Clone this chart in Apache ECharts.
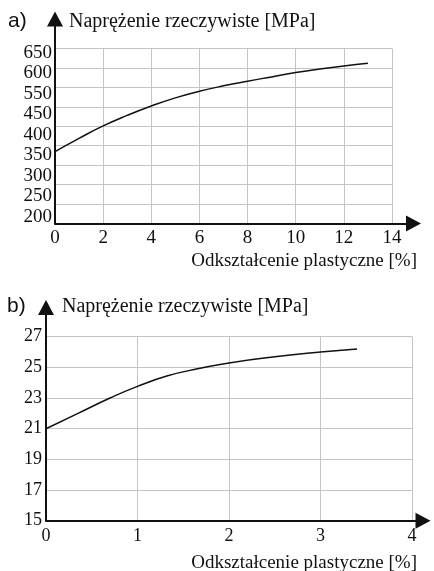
<!DOCTYPE html>
<html>
<head>
<meta charset="utf-8">
<style>
  html, body { margin: 0; padding: 0; background: #fff; }
  #chart { width: 434px; height: 571px; }
</style>
<script src="https://cdn.jsdelivr.net/npm/echarts@6/dist/echarts.min.js"></script>
</head>
<body>
<div id="chart"></div>
<script>
// chart a) - strain [%] vs true stress [MPa]
const strainA = [0, 1, 2, 3, 4, 5, 6, 7, 8, 9, 10, 11, 12, 13];
const stressA = [385, 419, 451, 478, 502, 523, 540, 554, 566, 577, 588, 597, 605, 612];
// the printed labels skip 500, so they are spread over the axis on their own
const yLabelsA = ['200', '250', '300', '350', '400', '450', '550', '600', '650'];

// chart b)
const strainB = [0, 0.35, 0.7, 1, 1.33, 1.67, 2, 2.5, 3, 3.4];
const stressB = [21.0, 22.0, 23.0, 23.76, 24.45, 24.92, 25.29, 25.69, 26.0, 26.2];

const yTitle = 'Naprężenie rzeczywiste [MPa]';
const xTitle = 'Odkształcenie plastyczne [%]';

const serif = 'Liberation Serif';
const gridColor = '#c4c4c4';

const hidden = { show: false };

function plotX(gridIndex, max, interval, fontSize, margin) {
  return {
    type: 'value', gridIndex, min: 0, max, interval,
    axisLine: hidden, axisTick: hidden,
    axisLabel: { color: '#111', fontFamily: serif, fontSize, margin },
    splitLine: { show: true, lineStyle: { color: gridColor, width: 1 } }
  };
}

function arrowAxis(gridIndex) {
  return {
    type: 'value', gridIndex, min: 0, max: 1,
    axisLine: {
      show: true, symbol: ['none', 'triangle'], symbolSize: [16, 15],
      lineStyle: { color: '#111', width: 2 }
    },
    axisTick: hidden, axisLabel: hidden, splitLine: hidden
  };
}

function text(t, pos, size, family) {
  return Object.assign({
    text: t, padding: 0,
    textStyle: { color: '#111', fontFamily: family || serif, fontSize: size, fontWeight: 'normal', lineHeight: size }
  }, pos);
}

const option = {
  backgroundColor: '#fff',
  animation: false,
  title: [
    text('a)', { left: 8, top: 11 }, 21, 'Liberation Sans'),
    text(yTitle, { left: 69, top: 12 }, 20),
    text(xTitle, { right: 17, top: 252 }, 19),
    text('b)', { left: 7, top: 296 }, 21, 'Liberation Sans'),
    text(yTitle, { left: 62, top: 297 }, 20),
    text(xTitle, { right: 17, top: 554 }, 19)
  ],
  grid: [
    // a) plot, arrows, label strip
    { left: 55, top: 48.5, width: 337, height: 175 },
    { left: 55, top: 19, width: 358.5, height: 204.5 },
    { left: 55, top: 53, width: 337, height: 164 },
    // b) plot, arrows
    { left: 46, top: 336.7, width: 366, height: 184 },
    { left: 46, top: 307.5, width: 377, height: 213.2 }
  ],
  xAxis: [
    plotX(0, 14, 2, 19, 5),
    arrowAxis(1),
    Object.assign(arrowAxis(2), { axisLine: hidden }),
    plotX(3, 4, 1, 18, 7),
    arrowAxis(4)
  ],
  yAxis: [
    {
      type: 'value', gridIndex: 0, min: 200, max: 650, interval: 50,
      axisLine: hidden, axisTick: hidden, axisLabel: hidden,
      splitLine: { show: true, lineStyle: { color: gridColor, width: 1 } }
    },
    arrowAxis(1),
    {
      type: 'category', gridIndex: 2, data: yLabelsA, boundaryGap: false,
      axisLine: hidden, axisTick: hidden, splitLine: hidden,
      axisLabel: { interval: 0, color: '#111', fontFamily: serif, fontSize: 19, margin: 3 }
    },
    {
      type: 'value', gridIndex: 3, min: 15, max: 27, interval: 2,
      axisLine: hidden, axisTick: hidden,
      axisLabel: { color: '#111', fontFamily: serif, fontSize: 18, margin: 4 },
      splitLine: { show: true, lineStyle: { color: gridColor, width: 1 } }
    },
    arrowAxis(4)
  ],
  series: [
    {
      type: 'line', xAxisIndex: 0, yAxisIndex: 0, smooth: true, showSymbol: false,
      lineStyle: { color: '#111', width: 1.5 },
      data: strainA.map((x, i) => [x, stressA[i]])
    },
    {
      type: 'line', xAxisIndex: 3, yAxisIndex: 3, smooth: true, showSymbol: false,
      lineStyle: { color: '#111', width: 1.5 },
      data: strainB.map((x, i) => [x, stressB[i]])
    }
  ]
};

const myChart = echarts.init(document.getElementById('chart'), null, { renderer: 'canvas' });
myChart.setOption(option);
</script>
</body>
</html>
